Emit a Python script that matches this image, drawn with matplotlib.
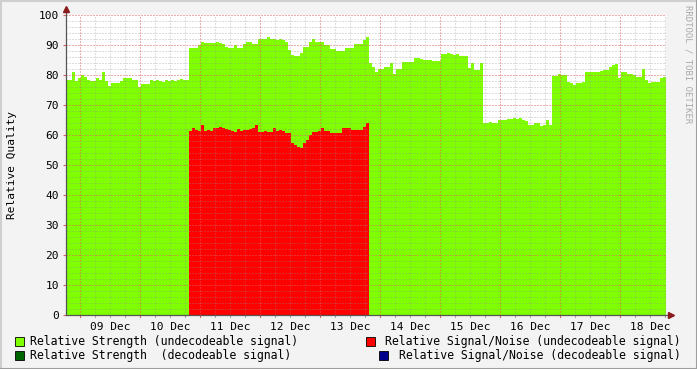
import numpy as np
import matplotlib.pyplot as plt
from matplotlib.patches import Rectangle

# Tijdas: dagen t.o.v. 09 Dec 00:00, één sample per 72 minuten
t_start = -0.2333
t_step = 0.05

# Relative Strength (undecodeable signal)
strength = [
    78.5, 78.3, 81.0, 78.0, 79.0, 80.0, 79.5, 78.5, 78.0, 78.0,
    79.0, 78.5, 81.0, 78.0, 76.5, 77.5, 77.2, 77.2, 78.0, 79.0,
    79.0, 79.0, 78.4, 78.4, 76.0, 77.0, 77.0, 77.0, 78.3, 78.0,
    78.3, 78.0, 77.8, 78.2, 78.0, 78.4, 77.9, 78.2, 78.6, 78.4,
    78.5, 89.0, 89.0, 89.0, 90.0, 91.0, 90.8, 90.8, 90.8, 90.8,
    91.0, 90.8, 90.5, 89.5, 89.0, 89.0, 90.0, 89.0, 89.0, 90.3,
    91.0, 91.0, 90.5, 90.5, 92.0, 92.0, 92.0, 92.8, 92.0, 92.0,
    91.7, 92.0, 91.8, 91.0, 88.5, 86.8, 86.3, 86.3, 87.5, 89.4,
    89.4, 91.0, 92.0, 91.0, 91.0, 91.0, 90.0, 90.0, 88.6, 88.6,
    88.0, 88.0, 88.0, 89.0, 89.0, 89.0, 90.3, 90.3, 90.3, 91.7,
    92.7, 83.9, 82.6, 81.1, 81.9, 81.9, 82.6, 82.6, 84.0, 80.3,
    81.9, 81.9, 84.2, 84.2, 84.5, 84.5, 85.7, 85.7, 85.5, 85.0,
    85.0, 85.0, 84.6, 84.6, 84.6, 87.0, 87.0, 87.3, 87.0, 86.8,
    87.0, 86.4, 86.2, 86.2, 82.2, 84.0, 81.7, 81.7, 84.0, 64.0,
    64.0, 64.2, 64.0, 64.0, 65.0, 65.0, 65.0, 65.3, 65.3, 65.6,
    65.3, 65.6, 65.0, 64.6, 63.3, 63.5, 64.0, 64.0, 63.0, 63.3,
    65.0, 63.3, 79.7, 79.7, 80.5, 80.0, 80.0, 77.8, 77.2, 76.7,
    77.5, 77.5, 77.8, 81.1, 81.1, 81.0, 81.1, 81.1, 81.3, 81.7,
    81.7, 82.8, 83.2, 83.6, 79.0, 81.1, 81.1, 80.5, 80.5, 80.0,
    79.4, 79.4, 81.9, 78.3, 77.2, 77.8, 77.8, 77.8, 79.0, 79.4,
]

# Relative Signal/Noise (undecodeable signal), samples 41 t/m 100
snr_first = 41
snr = [
    61.5, 62.5, 61.7, 61.5, 63.5, 61.5, 61.8, 61.5, 62.5, 62.3,
    62.8, 62.5, 62.0, 61.7, 61.5, 61.0, 62.0, 61.2, 61.7, 61.7,
    62.0, 62.5, 63.5, 61.1, 61.1, 61.3, 61.1, 61.1, 62.2, 61.3,
    61.8, 61.3, 60.6, 60.6, 57.2, 56.7, 55.9, 55.6, 57.2, 58.3,
    60.0, 61.1, 61.1, 61.3, 62.2, 61.3, 61.3, 60.8, 60.8, 60.6,
    60.6, 62.2, 62.2, 62.2, 61.7, 61.7, 61.7, 61.7, 62.8, 63.9,
]

day_labels = ['09 Dec', '10 Dec', '11 Dec', '12 Dec', '13 Dec',
              '14 Dec', '15 Dec', '16 Dec', '17 Dec', '18 Dec']

W, H = 697, 369
mono = 'DejaVu Sans Mono'
plt.rcParams['font.family'] = mono

fig = plt.figure(figsize=(W / 100, H / 100), dpi=100, facecolor='#F3F3F3')
ax = fig.add_axes([66 / W, 1 - 315 / H, 600 / W, 300 / H])
ax.set_facecolor('white')

edges = t_start + t_step * np.arange(len(strength) + 1)
ax.stairs(strength, edges, fill=True, color='#7FFF00', zorder=1)
ax.stairs(snr, edges[snr_first:snr_first + len(snr) + 1], fill=True,
          color='#FF0000', zorder=2)

t_end = edges[-1]
ax.set_xlim(t_start, t_end)
ax.set_ylim(0, 100)

# raster: klein grijs, groot rood (puntjes, half doorzichtig)
grid_minor = dict(color='#8F8F8F', alpha=0.3, lw=1.0, ls=(0, (1, 1)),
                  antialiased=False, zorder=3)
grid_major = dict(color='#DE5F5F', alpha=0.5, lw=1.0, ls=(0, (1, 1)),
                  antialiased=False, zorder=4)
for q in np.arange(-0.0, 10.0, 0.25):
    if t_start < q < t_end:
        ax.axvline(q, **(grid_major if q % 1 == 0 else grid_minor))
for v in range(2, 101, 2):
    ax.axhline(v, **(grid_major if v % 10 == 0 else grid_minor))

ax.set_xticks(np.arange(10) + 0.5, day_labels)
ax.set_yticks(range(0, 101, 10))
ax.tick_params(axis='x', length=0, pad=5, labelsize=8)
ax.tick_params(axis='y', length=2, color='#DE5F5F', pad=3, labelsize=8)
for s in ax.spines.values():
    s.set_visible(False)

# kleine streepjes onder de x-as
for q in np.arange(0.0, 10.0, 0.25):
    if t_start < q < t_end:
        ax.plot([q, q], [0, -0.8], color='#DE5F5F' if q % 1 == 0 else '#AAAAAA',
                lw=0.8, clip_on=False, zorder=5)

# assen met pijltjes
ax.plot([t_start, t_end + 0.07], [0, 0], color='#555555', lw=0.9,
        clip_on=False, zorder=6)
ax.plot([t_start, t_start], [0, 101.5], color='#555555', lw=0.9,
        clip_on=False, zorder=6)
ax.plot([t_end + 0.09], [0], marker='>', color='#8B1A1A', ms=4,
        clip_on=False, zorder=7)
ax.plot([t_start], [102], marker='^', color='#8B1A1A', ms=4,
        clip_on=False, zorder=7)

fig.text(12 / W, 1 - 165 / H, 'Relative Quality', rotation=90,
         ha='center', va='center', fontsize=8)
fig.text(688 / W, 1 - 5 / H, 'RRDTOOL / TOBI OETIKER', rotation=270,
         ha='center', va='top', fontsize=6.5, color='#AAAAAA')

# legenda
def legend_item(xbox, y, color, text, xtext, ha='left'):
    fig.patches.append(Rectangle(((xbox) / W, 1 - (y + 4.5) / H), 9 / W, 9 / H,
                                 transform=fig.transFigure, facecolor=color,
                                 edgecolor='black', lw=0.6))
    fig.text(xtext / W, 1 - y / H, text, ha=ha, va='center', fontsize=8.3)

legend_item(15, 341, '#7FFF00', 'Relative Strength (undecodeable signal)', 30)
legend_item(15, 355, '#006400', 'Relative Strength  (decodeable signal)', 30)
legend_item(366, 341, '#FF0000', 'Relative Signal/Noise (undecodeable signal)', 681, 'right')
legend_item(379, 355, '#00008B', 'Relative Signal/Noise (decodeable signal)', 681, 'right')

# rand
fig.add_artist(plt.Line2D([0, 1], [1 - 0.5 / H] * 2, color='#CFCFCF', lw=1.5,
                          transform=fig.transFigure))
fig.add_artist(plt.Line2D([0.5 / W] * 2, [0, 1], color='#CFCFCF', lw=1.5,
                          transform=fig.transFigure))
fig.add_artist(plt.Line2D([0, 1], [0.5 / H] * 2, color='#9E9E9E', lw=1.5,
                          transform=fig.transFigure))
fig.add_artist(plt.Line2D([1 - 0.5 / W] * 2, [0, 1], color='#9E9E9E', lw=1.5,
                          transform=fig.transFigure))

fig.savefig('out.png', dpi=100, facecolor=fig.get_facecolor())
